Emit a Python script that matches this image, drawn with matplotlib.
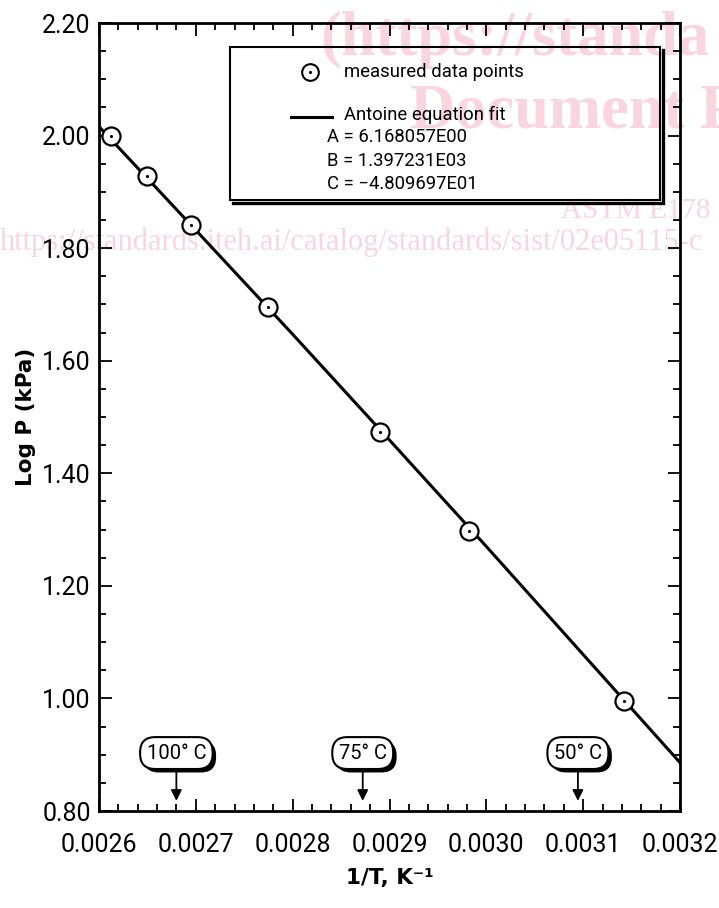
import matplotlib
matplotlib.use('Agg')
import matplotlib.pyplot as plt
import matplotlib.patheffects as pe
from matplotlib.patches import Rectangle
from matplotlib.lines import Line2D
from matplotlib.ticker import MultipleLocator

inv_t = [0.002612, 0.002650, 0.002695, 0.002775, 0.002890, 0.002982, 0.003142]
log_p = [2.000, 1.928, 1.841, 1.695, 1.473, 1.297, 0.995]

# Antoine fit line
fit_x = [0.0026, 0.0027, 0.0028, 0.0029, 0.0030, 0.0031, 0.0032]
fit_y = [2.016, 1.832, 1.647, 1.459, 1.270, 1.078, 0.886]

# temperature markers (deg C)
temps_c = [100, 75, 50]
temp_labels = ['100\u00b0 C', '75\u00b0 C', '50\u00b0 C']

coef_lines = ['A = 6.168057E00', 'B = 1.397231E03', 'C = \u22124.809697E01']

plt.rcParams['font.family'] = ['Roboto', 'DejaVu Sans']

fig = plt.figure(figsize=(7.19, 9.08), dpi=100)

# ---------------------------------------------------------------------
# watermark text behind the chart
pink = '#f9d6df'
fig.text(0.445, 0.939, '(https://standa', fontsize=45, fontweight='bold',
         family='Liberation Serif', color=pink, zorder=0)
fig.text(0.57, 0.860, 'Document P', fontsize=45, fontweight='bold',
         family='Liberation Serif', color=pink, zorder=0)
fig.text(0.78, 0.760, 'ASTM E178', fontsize=21,
         family='Liberation Serif', color=pink, zorder=0)
fig.text(0.0, 0.725, 'https://standards.iteh.ai/catalog/standards/sist/02e05115-c',
         fontsize=22, family='Liberation Serif', color=pink, zorder=0)

ax = fig.add_axes([0.1377, 0.1068, 0.8081, 0.8678], zorder=1)
ax.patch.set_alpha(0)

ax.plot(fit_x, fit_y, color='black', lw=2.2, zorder=3)
ax.plot(inv_t, log_p, linestyle='none', marker='o', markersize=13,
        markerfacecolor='white', markeredgecolor='black', markeredgewidth=1.6, zorder=4)
ax.plot(inv_t, log_p, linestyle='none', marker='.', markersize=2.5,
        color='black', zorder=5)

ax.set_xlim(0.0026, 0.0032)
ax.set_ylim(0.80, 2.20)

ax.xaxis.set_major_locator(MultipleLocator(0.0001))
ax.xaxis.set_minor_locator(MultipleLocator(0.00002))
ax.yaxis.set_major_locator(MultipleLocator(0.2))
ax.yaxis.set_minor_locator(MultipleLocator(0.05))
ax.xaxis.set_major_formatter(plt.FuncFormatter(lambda v, p: '%.4f' % v))
ax.yaxis.set_major_formatter(plt.FuncFormatter(lambda v, p: '%.2f' % v))

ax.tick_params(which='both', direction='in', top=True, right=True,
               labelsize=18, width=1.3, pad=6)
ax.tick_params(which='major', length=9)
ax.tick_params(which='minor', length=5)
ax.tick_params(axis='x', pad=16)

for s in ax.spines.values():
    s.set_linewidth(2)

ax.set_ylabel('Log P (kPa)', fontsize=15.5, fontweight='bold', family='DejaVu Sans')
ax.yaxis.set_label_coords(-0.108, 0.5)
ax.set_xlabel('1/T, K\u207b\u00b9', fontsize=15.5, fontweight='bold', family='DejaVu Sans')
ax.xaxis.set_label_coords(0.5, -0.072)

# ---------------------------------------------------------------------
# legend box with drop shadow on bottom/right (fill left open so the
# watermark shows through, as in the original)
bx, by, bw, bh = 0.2255, 0.775, 0.740, 0.194
dx, dy = 0.0052, 0.0038
box = Rectangle((bx, by), bw, bh, transform=ax.transAxes,
                facecolor='none', edgecolor='black', lw=1.5, zorder=7)
ax.add_patch(box)
ax.add_line(Line2D([bx + dx, bx + bw + dx, bx + bw + dx],
                   [by - dy, by - dy, by + bh - dy],
                   transform=ax.transAxes, color='black', lw=2.4,
                   solid_joinstyle='miter', zorder=6))

ax.add_line(Line2D([0.363], [0.938], transform=ax.transAxes, marker='o',
                   markersize=12, markerfacecolor='white', markeredgecolor='black',
                   markeredgewidth=1.5, zorder=8))
ax.add_line(Line2D([0.363], [0.938], transform=ax.transAxes, marker='.',
                   markersize=2.5, color='black', zorder=9))
ax.text(0.4217, 0.938, 'measured data points', transform=ax.transAxes,
        fontsize=13.3, va='center', zorder=9)

ax.add_line(Line2D([0.3305, 0.401], [0.8807, 0.8807], transform=ax.transAxes,
                   color='black', lw=2.2, zorder=8))
ax.text(0.4217, 0.883, 'Antoine equation fit', transform=ax.transAxes,
        fontsize=13.3, va='center', zorder=9)
for i, line in enumerate(coef_lines):
    ax.text(0.392, 0.855 - i * 0.0297, line, transform=ax.transAxes,
            fontsize=13.3, va='center', zorder=9)

# ---------------------------------------------------------------------
# temperature call-outs
for t, lab in zip(temps_c, temp_labels):
    x = 1.0 / (t + 273.15)
    ann = ax.annotate(lab, xy=(x, 0.818), xytext=(x, 0.903),
                      ha='center', va='center', fontsize=14.5, zorder=10,
                      bbox=dict(boxstyle='round,pad=0.32,rounding_size=0.75',
                                facecolor='white', edgecolor='black', lw=1.5),
                      arrowprops=dict(arrowstyle='-|>', color='black', lw=1.3,
                                      mutation_scale=16, shrinkA=0, shrinkB=0))
    ann.get_bbox_patch().set_path_effects(
        [pe.SimplePatchShadow(offset=(2.5, -2.5), shadow_rgbFace='black', alpha=1),
         pe.Normal()])

fig.savefig('out.png', dpi=100)
